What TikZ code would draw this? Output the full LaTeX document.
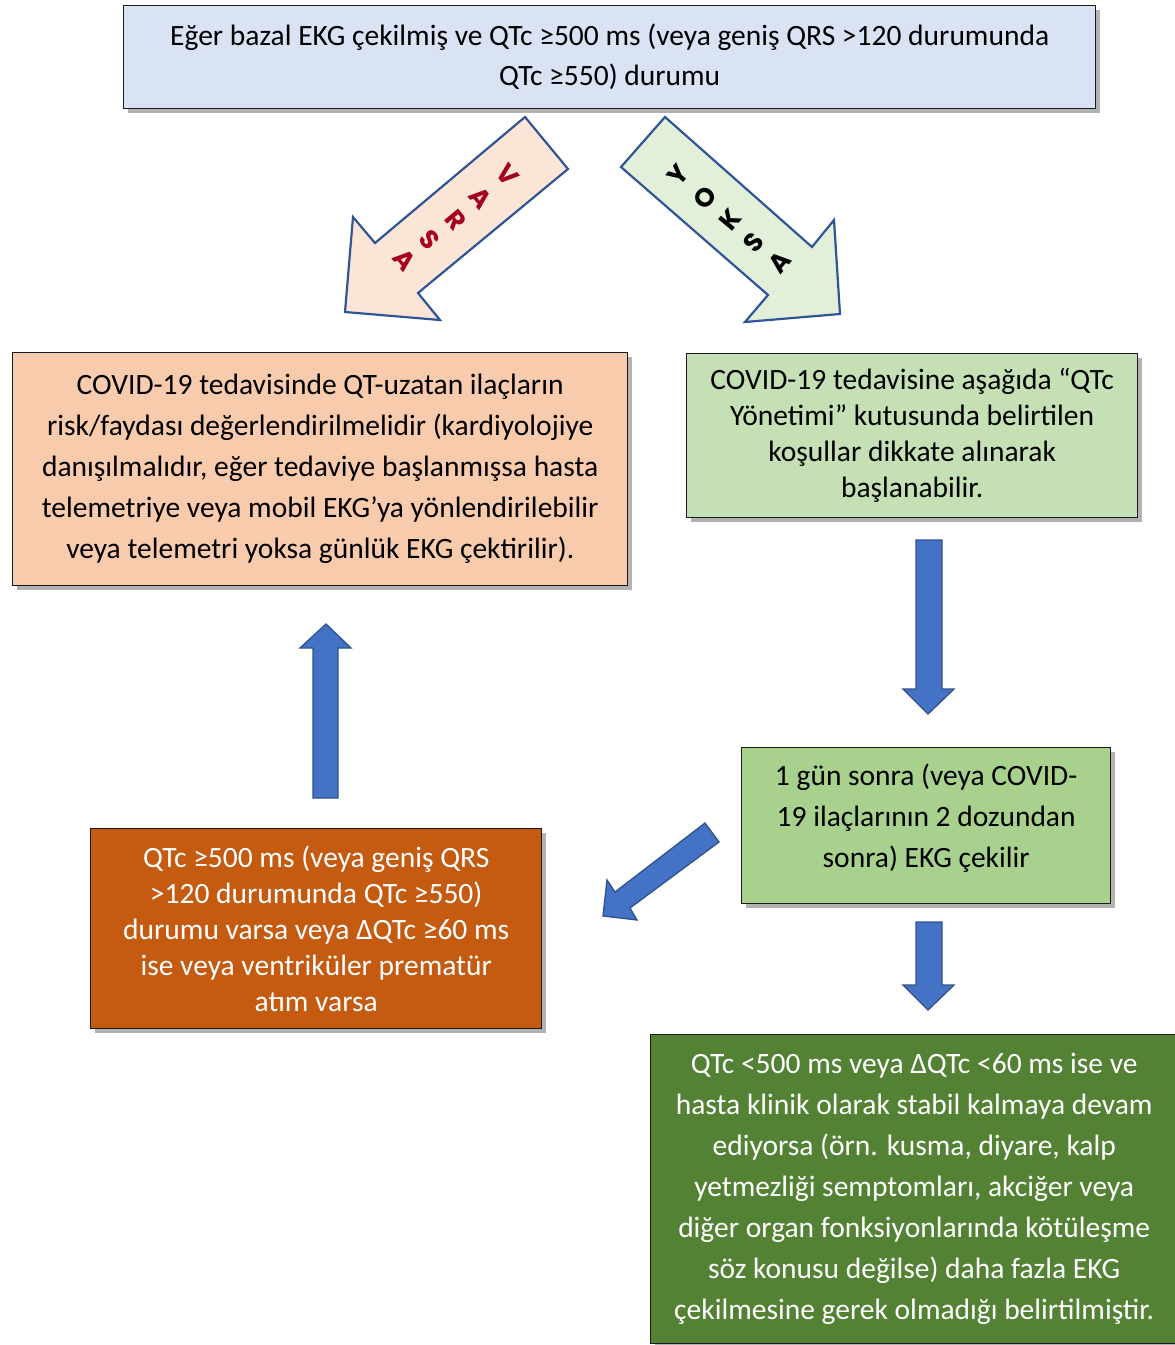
\documentclass[tikz,border=0pt]{standalone}
\usepackage{fontspec}
\setmainfont{Carlito}
\newfontfamily\arrowfont{Poppins}
\usetikzlibrary{shadows}
\definecolor{topblue}{HTML}{DAE3F3}
\definecolor{salmon}{HTML}{F8CBAD}
\definecolor{lgreen}{HTML}{C5E0B4}
\definecolor{mgreen}{HTML}{A9D18E}
\definecolor{dorange}{HTML}{C55A11}
\definecolor{dgreen}{HTML}{548235}
\definecolor{pinkfill}{HTML}{FBE5D6}
\definecolor{palegreen}{HTML}{E2F0D9}
\definecolor{arrowline}{HTML}{2F5597}
\definecolor{bluefill}{HTML}{4472C4}
\definecolor{blueline}{HTML}{2F528F}
\definecolor{crimson}{HTML}{A50021}
\tikzset{
  box/.style={draw=black!90, line width=1.4pt, inner sep=0pt, align=center, anchor=north west,
    drop shadow={shadow xshift=4pt, shadow yshift=-4pt, fill=black, opacity=0.3}},
  bigarrow/.style={draw=arrowline, line width=2.2pt, line join=miter},
  bluearrow/.style={draw=blueline, fill=bluefill, line width=1.3pt, line join=miter},
  letter/.style={font=\arrowfont\bfseries\fontsize{26}{26}\selectfont, inner sep=0pt},
}
\begin{document}
\begin{tikzpicture}[x=1pt, y=-1pt]
\useasboundingbox (0,0) rectangle (1175,1345);

% boxes
\node[box, fill=topblue, minimum width=972pt, minimum height=103pt,
  font=\fontsize{29.5}{40}\selectfont] (top) at (123,5)
  {Eğer bazal EKG çekilmiş ve QTc ≥500 ms (veya geniş QRS >120 durumunda\\ QTc ≥550) durumu};

\node[box, fill=salmon, minimum width=615pt, minimum height=233pt,
  font=\fontsize{29.5}{41}\selectfont] (varsabox) at (12,352)
  {COVID-19 tedavisinde QT-uzatan ilaçların\\ risk/faydası değerlendirilmelidir (kardiyolojiye\\ danışılmalıdır, eğer tedaviye başlanmışsa hasta\\ telemetriye veya mobil EKG’ya yönlendirilebilir\\ veya telemetri yoksa günlük EKG çektirilir).};

\node[box, fill=lgreen, minimum width=451pt, minimum height=164pt,
  font=\fontsize{29.5}{36}\selectfont] (yoksabox) at (686,353)
  {COVID-19 tedavisine aşağıda “QTc\\ Yönetimi” kutusunda belirtilen\\ koşullar dikkate alınarak\\ başlanabilir.};

\node[box, fill=mgreen, minimum width=369pt, minimum height=156pt,
  label={[font=\fontsize{29.5}{41}\selectfont, align=center, yshift=8pt, inner sep=0pt]center:{1 gün sonra (veya COVID-\\ 19 ilaçlarının 2 dozundan\\ sonra) EKG çekilir}}] (daybox) at (741,747) {};

\node[box, fill=dorange, text=white, minimum width=451pt, minimum height=200pt,
  font=\fontsize{29.5}{36}\selectfont] (badbox) at (90,828)
  {QTc ≥500 ms (veya geniş QRS\\ >120 durumunda QTc ≥550)\\ durumu varsa veya ΔQTc ≥60 ms\\ ise veya ventriküler prematür\\ atım varsa};

\node[box, fill=dgreen, text=white, minimum width=527pt, minimum height=309pt,
  font=\fontsize{29.5}{41}\selectfont] (goodbox) at (650,1034)
  {QTc <500 ms veya ΔQTc <60 ms ise ve\\ hasta klinik olarak stabil kalmaya devam\\ ediyorsa (örn. kusma, diyare, kalp\\ yetmezliği semptomları, akciğer veya\\ diğer organ fonksiyonlarında kötüleşme\\ söz konusu değilse) daha fazla EKG\\ çekilmesine gerek olmadığı belirtilmiştir.};

% VARSA arrow
\draw[bigarrow, fill=pinkfill] (525,117) -- (568,169) -- (418,293) -- (440,320) -- (345,312) -- (353,217) -- (375,243) -- cycle;
\node[letter, text=crimson, rotate=-50] (v1) at (508,175) {V};
\node[letter, text=crimson, rotate=-50] (v2) at (481,198) {A};
\node[letter, text=crimson, rotate=-50] (v3) at (456,220) {R};
\node[letter, text=crimson, rotate=-50] (v4) at (430,240) {S};
\node[letter, text=crimson, rotate=-50] (v5) at (405,260) {A};

% YOKSA arrow
\draw[bigarrow, fill=palegreen] (665,117) -- (621,167) -- (768,295) -- (745,322) -- (840,314) -- (834,220) -- (812,247) -- cycle;
\node[letter, text=black, rotate=50] (y1) at (678,175) {Y};
\node[letter, text=black, rotate=50] (y2) at (705,198) {O};
\node[letter, text=black, rotate=50] (y3) at (730,220) {K};
\node[letter, text=black, rotate=50] (y4) at (754,242) {S};
\node[letter, text=black, rotate=50] (y5) at (780,262) {A};

% blue block arrows
\draw[bluearrow] (313,798) -- (338,798) -- (338,648) -- (351,648) -- (326,624) -- (300,648) -- (313,648) -- cycle;
\draw[bluearrow] (916,540) -- (942,540) -- (942,689) -- (954,689) -- (928,714) -- (903,689) -- (916,689) -- cycle;
\draw[bluearrow] (916,922) -- (942,922) -- (942,985) -- (954,985) -- (928,1010) -- (903,985) -- (916,985) -- cycle;
\draw[bluearrow] (705,823) -- (719,842) -- (630,908) -- (637,920) -- (603,916) -- (607,880) -- (615,892) -- cycle;
\end{tikzpicture}
\end{document}
